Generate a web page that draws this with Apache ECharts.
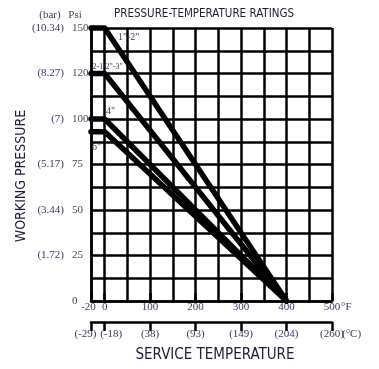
<!DOCTYPE html>
<html><head><meta charset="utf-8">
<script src="https://cdn.jsdelivr.net/npm/echarts@6/dist/echarts.min.js"></script>
<style>html,body{margin:0;padding:0;background:#fff}#c{width:379px;height:369px}</style>
</head><body><div id="c"></div>
<script>
// ---- data ----
const sizeNames = ['1"-2"', '2-1/2"-3"', '4"', '6"'];
const maxPressurePsi = [150, 120, 100, 93];
const lowTempF = [-20, -20, -20, -20];
const kneeTempF = [0, 0, 0, 0];
const endTempF = [400, 400, 400, 400];
const endPressurePsi = [0, 0, 0, 0];

const psiTickLabels = [0, 25, 50, 75, 100, 120, 150];
const barTickLabels = ['', '(1.72)', '(3.44)', '(5.17)', '(7)', '(8.27)', '(10.34)'];
const tempTicksF = [-20, 0, 100, 200, 300, 400, 500];
const tempTicksC = ['(-29)', '(-18)', '(38)', '(93)', '(149)', '(204)', '(260)'];
const tempGridF = [-20, 0, 50, 100, 150, 200, 250, 300, 350, 400, 450, 500];

// ---- the printed chart's scales ----
// two grid rows between consecutive pressure labels
function psiToRow(p) {
  const n = psiTickLabels.length;
  for (let i = 0; i < n - 1; i++) {
    const a = psiTickLabels[i], b = psiTickLabels[i + 1];
    if (p <= b || i === n - 2) return 2 * (i + (p - a) / (b - a));
  }
}
// the sub-zero column is drawn stretched
const SUBZERO_STRETCH = 1.5;
function tempToAxis(t) { return t < 0 ? t * SUBZERO_STRETCH : t; }

const NUM_FONT = "'Liberation Serif', serif";
const TITLE_FONT = "'Liberation Sans Narrow', 'DejaVu Sans Condensed', sans-serif";
const txtColor = '#3f3568';
const lineBlack = { color: '#000', width: 2.5 };

const labelOffsets = [[24, 9], [3, -7], [6, -8], [-8, 16]];
const labelSizes = [10, 8, 10, 10];

const series = sizeNames.map((name, i) => ({
  type: 'line', name, xAxisIndex: 0, yAxisIndex: 0,
  symbol: 'circle', symbolSize: 1, showSymbol: true, clip: false, z: 5,
  itemStyle: { color: '#000' },
  lineStyle: { color: '#000', width: 5.5, cap: 'round', join: 'round' },
  label: { show: false },
  data: [
    [tempToAxis(lowTempF[i]), psiToRow(maxPressurePsi[i])],
    { value: [tempToAxis(kneeTempF[i]), psiToRow(maxPressurePsi[i])],
      label: { show: true, formatter: name, position: 'inside', offset: labelOffsets[i],
        color: txtColor, fontSize: labelSizes[i], fontFamily: NUM_FONT } },
    [tempToAxis(endTempF[i]), psiToRow(endPressurePsi[i])]
  ]
}));

const fTickPos = tempTicksF.map(tempToAxis);
const gridPos = tempGridF.map(tempToAxis);

const chart = echarts.init(document.getElementById('c'));
chart.setOption({
  animation: false,
  grid: { left: 91, right: 47, top: 28, bottom: 68 },
  xAxis: [
    { type: 'value', min: tempToAxis(tempTicksF[0]), max: tempTicksF[tempTicksF.length - 1], position: 'bottom',
      axisLine: { show: true, onZero: false, lineStyle: lineBlack },
      axisTick: { show: false, customValues: gridPos },
      splitLine: { show: true, lineStyle: lineBlack },
      axisLabel: { customValues: fTickPos, margin: 1, color: txtColor, fontSize: 11, fontFamily: NUM_FONT,
        formatter: v => { const k = fTickPos.indexOf(v); return k === 0 ? '{l|' + tempTicksF[k] + '}' : String(tempTicksF[k]); },
        rich: { l: { padding: [0, 5, 0, 0], fontSize: 11, fontFamily: NUM_FONT, color: txtColor } } } },
    { type: 'value', min: tempToAxis(tempTicksF[0]), max: tempTicksF[tempTicksF.length - 1], position: 'bottom', offset: 21,
      axisLine: { show: true, onZero: false, lineStyle: lineBlack },
      axisTick: { show: true, customValues: fTickPos, length: 9, lineStyle: lineBlack },
      splitLine: { show: false },
      axisLabel: { customValues: fTickPos, margin: 7, color: txtColor, fontSize: 11, fontFamily: NUM_FONT,
        formatter: v => { const k = fTickPos.indexOf(v);
          return k === 0 ? '{l|' + tempTicksC[k] + '}' : k === 1 ? '{r|' + tempTicksC[k] + '}' : tempTicksC[k]; },
        rich: { l: { padding: [0, 11, 0, 0], fontSize: 11, fontFamily: NUM_FONT, color: txtColor },
                r: { padding: [0, 0, 0, 13], fontSize: 11, fontFamily: NUM_FONT, color: txtColor } } } },
    { type: 'value', min: tempToAxis(tempTicksF[0]), max: tempTicksF[tempTicksF.length - 1], position: 'bottom', offset: 21,
      axisLine: { show: false },
      axisTick: { show: true, inside: true, customValues: fTickPos, length: 8, lineStyle: lineBlack },
      splitLine: { show: false }, axisLabel: { show: false } }
  ],
  yAxis: [
    { type: 'value', min: 0, max: 12, interval: 1, position: 'left',
      axisLine: { show: true, onZero: false, lineStyle: lineBlack }, axisTick: { show: false },
      splitLine: { show: true, lineStyle: lineBlack },
      axisLabel: { align: 'left', margin: 19, color: '#4a4560', fontSize: 11, fontFamily: NUM_FONT,
        formatter: v => v % 2 === 0 ? String(psiTickLabels[v / 2]) : '' } },
    { type: 'value', min: 0, max: 12, interval: 1, position: 'left',
      axisLine: { show: false, onZero: false }, axisTick: { show: false }, splitLine: { show: false },
      axisLabel: { align: 'right', margin: 27, color: txtColor, fontSize: 11, fontFamily: NUM_FONT,
        formatter: v => v % 2 === 0 ? barTickLabels[v / 2] : '' } }
  ],
  graphic: [
    { type: 'text', x: 204, y: 14, style: { text: 'PRESSURE-TEMPERATURE RATINGS', align: 'center', verticalAlign: 'middle',
        font: "11.5px " + TITLE_FONT, fill: '#1c1c3c' } },
    { type: 'text', x: 50, y: 15, style: { text: '(bar)', align: 'center', verticalAlign: 'middle',
        font: "11px " + NUM_FONT, fill: txtColor } },
    { type: 'text', x: 75, y: 15, style: { text: 'Psi', align: 'center', verticalAlign: 'middle',
        font: "11px " + NUM_FONT, fill: '#4a4560' } },
    { type: 'text', x: 21, y: 176, rotation: Math.PI / 2, style: { text: 'WORKING PRESSURE', align: 'center', verticalAlign: 'middle',
        font: "14px " + TITLE_FONT, fill: '#1c1c3c' } },
    { type: 'text', x: 215, y: 355, style: { text: 'SERVICE TEMPERATURE', align: 'center', verticalAlign: 'middle',
        font: "15px " + TITLE_FONT, fill: '#1c1c3c' } },
    { type: 'text', x: 341, y: 307, style: { text: '°F', align: 'left', verticalAlign: 'middle',
        font: "11px " + NUM_FONT, fill: txtColor } },
    { type: 'text', x: 342, y: 334, style: { text: '(°C)', align: 'left', verticalAlign: 'middle',
        font: "11px " + NUM_FONT, fill: txtColor } }
  ],
  series
});
</script></body></html>
